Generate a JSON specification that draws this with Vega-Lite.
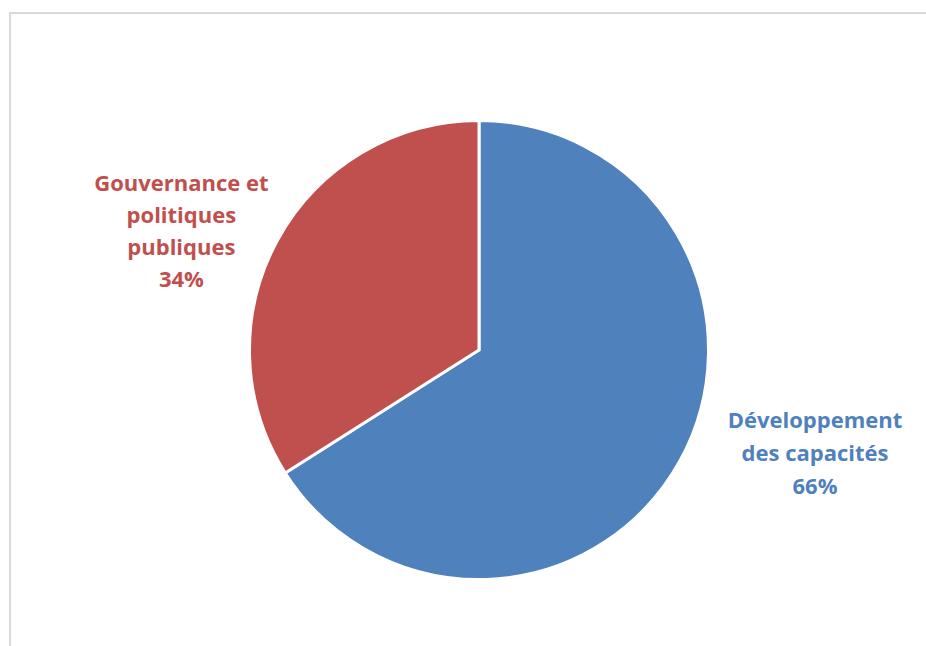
{
  "$schema": "https://vega.github.io/schema/vega-lite/v6.json",
  "autosize": "none",
  "padding": {"left": 10, "top": 13, "right": 0, "bottom": 0},
  "width": 938,
  "height": 674,
  "background": "white",
  "config": {"view": {"stroke": null}},
  "layer": [
    {
      "data": {"values": [{"frame": 1}]},
      "mark": {"type": "rect", "fill": "white", "stroke": "#d9d9d9", "strokeWidth": 2},
      "encoding": {}
    },
    {
      "data": {
        "values": [
          {"cat": "Développement des capacités", "label": ["Développement", "des capacités", "66%"], "value": 66, "order": 1},
          {"cat": "Gouvernance et politiques publiques", "label": ["Gouvernance et", "politiques", "publiques", "34%"], "value": 34, "order": 2}
        ]
      },
      "transform": [
        {"stack": "value", "groupby": [], "sort": [{"field": "order", "order": "ascending"}], "as": ["v0", "v1"]}
      ],
      "encoding": {
        "theta": {"field": "v0", "type": "quantitative", "stack": null, "scale": {"domain": [0, 100]}},
        "theta2": {"field": "v1"},
        "color": {
          "field": "cat", "type": "nominal", "legend": null,
          "scale": {"domain": ["Développement des capacités", "Gouvernance et politiques publiques"], "range": ["#4F81BD", "#C0504D"]}
        }
      },
      "layer": [
        {"mark": {"type": "arc", "outerRadius": 229.5, "stroke": "white", "strokeWidth": 3}},
        {
          "transform": [{"filter": "datum.order == 2"}],
          "mark": {"type": "text", "radius": 330, "dx": -19, "dy": -343, "font": "Open Sans", "fontWeight": "bold", "fontSize": 22, "lineHeight": 32, "align": "center", "baseline": "middle"},
          "encoding": {"text": {"field": "label"}}
        },
        {
          "transform": [{"filter": "datum.order == 1"}],
          "mark": {"type": "text", "radius": 330, "dx": 336, "dy": 401, "font": "Open Sans", "fontWeight": "bold", "fontSize": 22, "lineHeight": 33, "align": "center", "baseline": "middle"},
          "encoding": {"text": {"field": "label"}}
        }
      ]
    }
  ]
}
